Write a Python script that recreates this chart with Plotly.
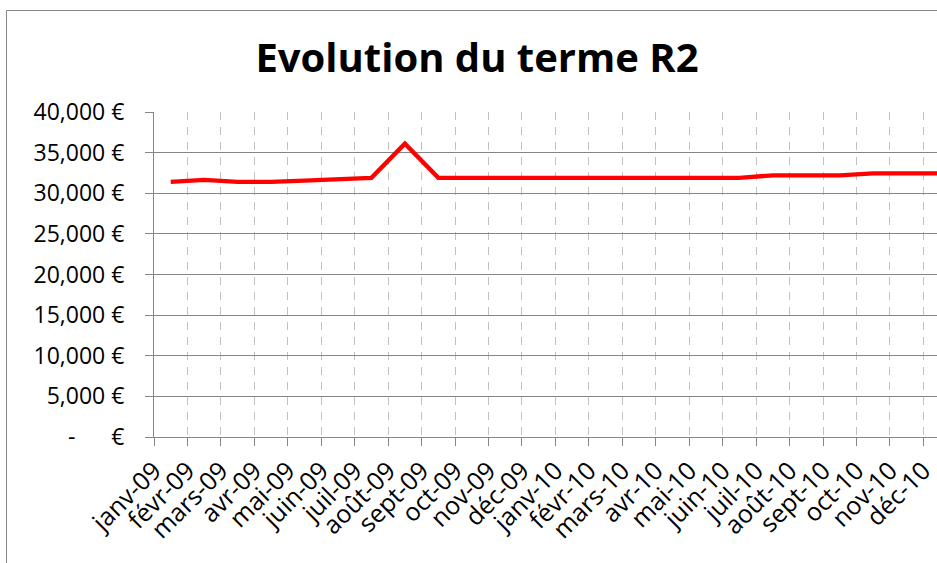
import plotly.graph_objects as go

months = ["janv-09", "févr-09", "mars-09", "avr-09", "mai-09", "juin-09",
          "juil-09", "août-09", "sept-09", "oct-09", "nov-09", "déc-09",
          "janv-10", "févr-10", "mars-10", "avr-10", "mai-10", "juin-10",
          "juil-10", "août-10", "sept-10", "oct-10", "nov-10", "déc-10"]
r2_values = [31400, 31650, 31400, 31400, 31550, 31750,
             31900, 36100, 31900, 31900, 31900, 31900,
             31900, 31900, 31900, 31900, 31900, 31900,
             32200, 32200, 32200, 32450, 32450, 32450]
y_ticks = [0, 5000, 10000, 15000, 20000, 25000, 30000, 35000, 40000]
y_ticktext = ["-" + "\u00a0" * 6 + "€"] + [f"{v:,} €" for v in y_ticks[1:]]

x_pos = list(range(len(months)))
# Excel-style: labels end at the left boundary of each category
x_tickvals = [i - 0.5 for i in x_pos]

FONT = "Open Sans"
GRID = "#868686"

W, H = 937, 563
ML, MT, MB = 154, 112, 126
plot_w = W - ML
plot_h = H - MT - MB
cat_w = 33.45

fig = go.Figure()
fig.add_trace(go.Scatter(
    x=x_pos, y=r2_values, mode="lines",
    line=dict(color="#FF0000", width=4.3),
    hoverinfo="skip", showlegend=False,
))

fig.update_layout(
    width=W, height=H,
    margin=dict(l=ML, r=0, t=MT, b=MB),
    paper_bgcolor="white", plot_bgcolor="white",
    title=dict(text="<b>Evolution du terme R2</b>",
               font=dict(family=FONT, size=40, color="black"),
               x=477 / W, xanchor="center", xref="container",
               y=1 - 58 / H, yanchor="middle", yref="container"),
    xaxis=dict(
        range=[-0.5, -0.5 + plot_w / cat_w],
        tickmode="array", tickvals=x_tickvals, ticktext=months,
        tickangle=-45, ticklabeloverflow="allow",
        tickfont=dict(family=FONT, size=25, color="black"),
        ticks="outside", ticklen=8, tickcolor=GRID, tickwidth=1,
        showgrid=True, gridcolor="#C0C0C0", gridwidth=1, griddash="8px,7px",
        showline=True, linecolor=GRID, linewidth=1,
        zeroline=False, fixedrange=True,
    ),
    yaxis=dict(
        range=[0, 40000],
        tickmode="array", tickvals=y_ticks, ticktext=y_ticktext,
        tickfont=dict(family=FONT, size=23, color="black"),
        ticks="outside", ticklen=8, tickcolor=GRID, tickwidth=1,
        ticklabelstandoff=16,
        showgrid=True, gridcolor=GRID, gridwidth=1,
        showline=True, linecolor=GRID, linewidth=1,
        zeroline=False, fixedrange=True,
    ),
    shapes=[dict(type="rect", xref="paper", yref="paper",
                 x0=(6.5 - ML) / plot_w, x1=1.2,
                 y0=-0.6, y1=(plot_h + MT - 10.5) / plot_h,
                 line=dict(color=GRID, width=1), layer="below")],
)

# remove the default page margin so the 937x563 figure fills the window exactly
fig.write_html(
    "out.html",
    config={"displayModeBar": False},
    post_script="document.body.style.margin='0';"
                "document.body.style.overflow='hidden';",
)
